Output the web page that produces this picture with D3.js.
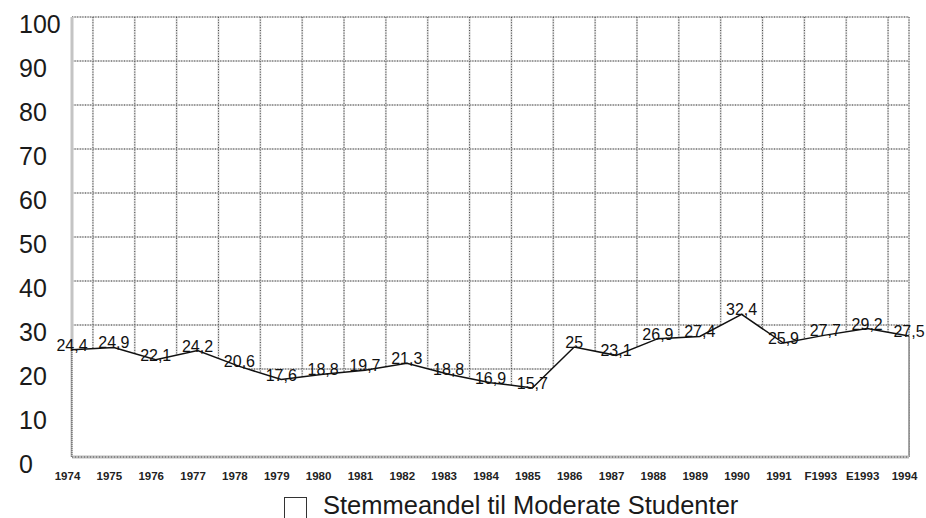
<!DOCTYPE html>
<html>
<head>
<meta charset="utf-8">
<script src="https://cdn.jsdelivr.net/npm/d3@7"></script>
<style>
  body { margin: 0; background: #fff; }
  svg { display: block; font-family: "Liberation Sans", Arial, sans-serif; }
</style>
</head>
<body>
<script>
var years = ["1974", "1975", "1976", "1977", "1978", "1979", "1980", "1981", "1982", "1983",
  "1984", "1985", "1986", "1987", "1988", "1989", "1990", "1991", "F1993", "E1993", "1994"];
var share = [24.4, 24.9, 22.1, 24.2, 20.6, 17.6, 18.8, 19.7, 21.3, 18.8,
  16.9, 15.7, 25, 23.1, 26.9, 27.4, 32.4, 25.9, 27.7, 29.2, 27.5];
var yTicks = [0, 10, 20, 30, 40, 50, 60, 70, 80, 90, 100];
var legendLabel = "Stemmeandel til Moderate Studenter";

var width = 926;
var height = 518;
var plotLeft = 72, plotRight = 909, plotTop = 17, plotBottom = 457;

var xScale = d3.scalePoint().domain(years).range([plotLeft, plotRight]);
var yScale = d3.scaleLinear().domain([0, 100]).range([plotBottom, plotTop]);

var data = years.map((y, i) => ({ year: y, v: share[i] }));
var fmt = v => String(v).replace(".", ",");

var svg = d3.select("body").append("svg")
  .attr("width", width)
  .attr("height", height);
var g = svg.append("g");

// grid
var grid = g.append("g");
var vx = [plotLeft, plotRight];
for (var i = 0; i < years.length - 1; i++) {
  vx.push((xScale(years[i]) + xScale(years[i + 1])) / 2);
}
[["#dcdcdc", 2, null], ["#444", 1, "1,1.6"]].forEach(function (s) {
  grid.selectAll(null).data(yTicks).enter().append("line")
    .attr("x1", plotLeft).attr("x2", plotRight)
    .attr("y1", d => yScale(d)).attr("y2", d => yScale(d))
    .attr("stroke", s[0]).attr("stroke-width", s[1])
    .attr("stroke-dasharray", s[2]);
  grid.selectAll(null).data(vx).enter().append("line")
    .attr("x1", d => d).attr("x2", d => d)
    .attr("y1", plotTop).attr("y2", plotBottom)
    .attr("stroke", s[0]).attr("stroke-width", s[1])
    .attr("stroke-dasharray", s[2]);
});

// left axis line
g.append("line")
  .attr("x1", plotLeft).attr("x2", plotLeft)
  .attr("y1", plotTop).attr("y2", plotBottom)
  .attr("stroke", "#c4c4c4").attr("stroke-width", 3);

var area = d3.area()
  .x(d => xScale(d.year))
  .y0(plotBottom)
  .y1(d => yScale(d.v));

g.append("path")
  .attr("d", area(data))
  .attr("fill", "#fff");

// edges of the area
g.append("line")
  .attr("x1", plotLeft).attr("x2", plotLeft)
  .attr("y1", yScale(share[0])).attr("y2", plotBottom)
  .attr("stroke", "#222").attr("stroke-width", 1.2)
  .attr("stroke-dasharray", "1,1");
g.append("line")
  .attr("x1", plotRight).attr("x2", plotRight)
  .attr("y1", yScale(share[share.length - 1])).attr("y2", plotBottom)
  .attr("stroke", "#888").attr("stroke-width", 1.5);
g.append("line")
  .attr("x1", plotLeft).attr("x2", plotRight)
  .attr("y1", plotBottom).attr("y2", plotBottom)
  .attr("stroke", "#bbb").attr("stroke-width", 3);
g.append("line")
  .attr("x1", plotLeft).attr("x2", plotRight)
  .attr("y1", plotBottom).attr("y2", plotBottom)
  .attr("stroke", "#555").attr("stroke-width", 1)
  .attr("stroke-dasharray", "1,2");

var line = d3.line()
  .x(d => xScale(d.year))
  .y(d => yScale(d.v));

g.append("path")
  .attr("d", line(data))
  .attr("fill", "none")
  .attr("stroke", "#111")
  .attr("stroke-width", 1.5);

// value labels
g.selectAll(".val").data(data).enter().append("text")
  .attr("class", "val")
  .attr("x", d => xScale(d.year))
  .attr("y", d => yScale(d.v) + 1)
  .attr("text-anchor", "middle")
  .attr("font-size", 16)
  .attr("fill", "#111")
  .text(d => fmt(d.v));

// y axis labels
var yAxis = g.append("g").call(d3.axisLeft(yScale).tickValues(yTicks).tickSize(0));
yAxis.select(".domain").remove();
yAxis.selectAll("text")
  .attr("x", 19)
  .attr("dy", "0.32em")
  .attr("transform", "translate(0,7)")
  .attr("text-anchor", "start")
  .attr("font-size", 25)
  .attr("font-family", "Liberation Sans, Arial, sans-serif")
  .attr("fill", "#1a1a1a");

// x axis labels
var xAxis = g.append("g")
  .attr("transform", "translate(-5," + plotBottom + ")")
  .call(d3.axisBottom(xScale).tickSize(0));
xAxis.select(".domain").remove();
xAxis.selectAll("text")
  .attr("y", 23)
  .attr("dy", 0)
  .attr("font-size", 11.5)
  .attr("font-weight", "bold")
  .attr("font-family", "Liberation Sans, Arial, sans-serif")
  .attr("fill", "#222");

// legend
svg.append("rect")
  .attr("x", 284.5).attr("y", 497.5)
  .attr("width", 22).attr("height", 22)
  .attr("fill", "#fff").attr("stroke", "#333");
svg.append("text")
  .attr("x", 323).attr("y", 514)
  .attr("font-size", 25.5)
  .attr("fill", "#1a1a1a")
  .text(legendLabel);
</script>
</body>
</html>
